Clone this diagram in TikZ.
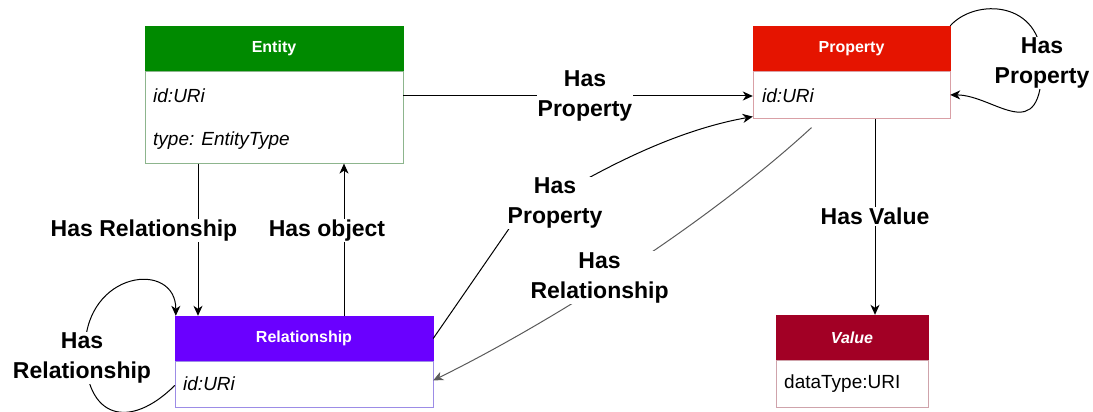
\documentclass[tikz,border=0pt]{standalone}
\usepackage{fontspec}
\setmainfont{Liberation Sans}
\usepackage{xcolor}
\usetikzlibrary{arrows.meta}

\definecolor{entGreen}{HTML}{008A00}
\definecolor{entLine}{HTML}{8DB58D}
\definecolor{propRed}{HTML}{E51400}
\definecolor{propLine}{HTML}{D9A0A6}
\definecolor{relPurple}{HTML}{6A00FF}
\definecolor{relLine}{HTML}{9C8CE6}
\definecolor{valRed}{HTML}{A20025}
\definecolor{valLine}{HTML}{CFA3AB}
\definecolor{linkGray}{HTML}{5A5A5A}

\tikzset{
  head/.style={minimum height=45pt, inner sep=0pt, text=white,
    font=\fontsize{16}{18}\selectfont\bfseries},
  body/.style={fill=white, anchor=north, inner sep=0pt},
  attr/.style={anchor=west, inner sep=0pt, font=\fontsize{19}{22}\selectfont\itshape},
  rel/.style={fill=white, align=center, inner sep=1pt,
    font=\fontsize{23}{30}\selectfont\bfseries},
  link/.style={line width=1pt, -{Stealth[length=10pt,width=9pt,inset=3pt]}}
}

\begin{document}
\begin{tikzpicture}[x=1pt, y=-1pt]

\useasboundingbox (0,0) rectangle (1093,412);

% Entity
\node[head, fill=entGreen, draw=entGreen, minimum width=258pt] (entity) at (274,48.5) {Entity};
\node[body, draw=entLine, minimum width=258pt, minimum height=92pt] (entityBody) at (entity.south) {};
\node[attr] (entityId) at (153,96) {id:URi};
\node[attr] (entityType) at (153,141) {type: EntityType};

% Property
\node[head, fill=propRed, draw=propRed, minimum width=197pt] (prop) at (851.5,48.5) {Property};
\node[body, draw=propLine, minimum width=197pt, minimum height=47pt] (propBody) at (prop.south) {};
\node[attr] (propId) at (762,96) {id:URi};

% Relationship
\node[head, fill=relPurple, draw=relPurple, minimum width=258pt] (relation) at (304,338.5) {Relationship};
\node[body, draw=relLine, minimum width=258pt, minimum height=46pt] (relBody) at (relation.south) {};
\node[attr] (relId) at (183,384) {id:URi};

% Value
\node[head, fill=valRed, draw=valRed, minimum width=152pt, font=\fontsize{16}{18}\selectfont\bfseries\itshape] (value) at (852,337.5) {Value};
\node[body, draw=valLine, minimum width=152pt, minimum height=47pt] (valBody) at (value.south) {};
\node[attr, font=\fontsize{19}{22}\selectfont] (valType) at (784,384) {dataType:URI};

% links
\draw[link] (entityId -| entityBody.east) -- (propId -| propBody.west)
  node[rel, pos=0.52] (hasProp) {Has\\Property};
\draw[link] ([xshift=-76pt]entityBody.south) -- ([xshift=-106pt]relation.north)
  node[rel, pos=0.44, xshift=-54pt] (hasRel) {Has Relationship};
\draw[link] ([xshift=40pt]relation.north) -- ([xshift=70pt]entityBody.south)
  node[rel, pos=0.56, xshift=-17pt] (hasObj) {Has object};
\draw[link] (propBody.south -| 875,0) -- (value.north -| 875,0)
  node[rel, midway] (hasVal) {Has Value};

\draw[link] (relation.east) -- (515,220)
  node[rel, at end, xshift=40pt, yshift=17pt] (relHasProp) {Has\\Property}
  .. controls (560,195) and (650,135) .. ([yshift=2pt]propBody.south west);
\draw[link, draw=linkGray] ([xshift=-40pt,yshift=-9pt]propBody.south)
  .. controls (700,230) and (540,328) .. ([yshift=4pt]relBody.east)
  node[rel, pos=0.5, xshift=-21pt, yshift=-5pt] (propHasRel) {Has\\Relationship};

% self loops
\draw[link] (prop.north east) .. controls (975,-2) and (1042,0) .. (1042,63)
  node[rel] (propLoop) {Has\\Property}
  .. controls (1042,150) and (995,95) .. (propBody.east);
\draw[link] ([yshift=-1pt]relBody.west) .. controls (130,430) and (85,420) .. (85,350)
  node[rel, xshift=-3pt, yshift=-8pt] (relLoop) {Has\\Relationship}
  .. controls (85,270) and (176,260) .. ([xshift=1pt]relation.north west);

\end{tikzpicture}
\end{document}
